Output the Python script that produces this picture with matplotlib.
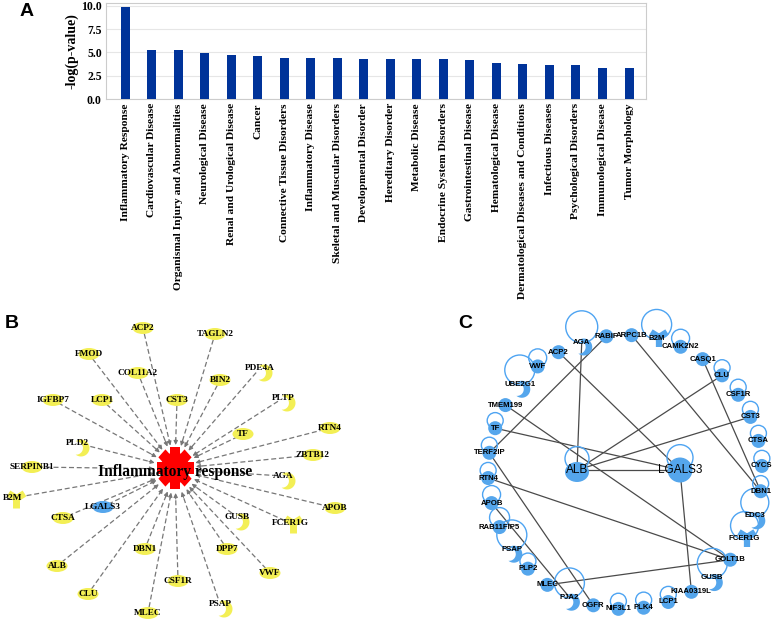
import numpy as np
import matplotlib
matplotlib.use("Agg")
import matplotlib.pyplot as plt
from matplotlib.patches import Ellipse, Circle, Polygon

# ---------------- data ----------------
categories = ["Inflammatory Response", "Cardiovascular Disease",
              "Organismal Injury and Abnormalities", "Neurological Disease",
              "Renal and Urological Disease", "Cancer", "Connective Tissue Disorders",
              "Inflammatory Disease", "Skeletal and Muscular Disorders",
              "Developmental Disorder", "Hereditary Disorder", "Metabolic Disease",
              "Endocrine System Disorders", "Gastrointestinal Disease",
              "Hematological Disease", "Dermatological Diseases and Conditions",
              "Infectious Diseases", "Psychological Disorders",
              "Immunological Disease", "Tumor Morphology"]
neg_log_p = [9.82, 5.25, 5.25, 4.96, 4.68, 4.57, 4.36, 4.36, 4.36, 4.27,
             4.29, 4.29, 4.27, 4.14, 3.89, 3.79, 3.68, 3.68, 3.29, 3.29]
yticks = [0.0, 2.5, 5.0, 7.5, 10.0]

# Panel B: genes pointing to the hub
b_hub = "Inflammatory response"
b_genes = ["ACP2", "TAGLN2", "FMOD", "COL11A2", "PDE4A", "BIN2", "IGFBP7", "LCP1",
           "CST3", "PLTP", "RTN4", "TF", "PLD2", "ZBTB12", "SERPINB1", "AGA", "B2M",
           "LGALS3", "APOB", "CTSA", "GUSB", "FCER1G", "DBN1", "DPP7", "ALB", "VWF",
           "CSF1R", "CLU", "PSAP", "MLEC"]
b_blue = ["LGALS3"]

# Panel C: circular network
c_ring = ["ACP2", "AGA", "RABIF", "ARPC1B", "B2M", "CAMK2N2", "CASQ1", "CLU", "CSF1R",
          "CST3", "CTSA", "CYCS", "DBN1", "EDC3", "FCER1G", "GOLT1B", "GUSB",
          "KIAA0319L", "LCP1", "PLK4", "NIF3L1", "OGFR", "PJA2", "MLEC", "PLP2", "PSAP",
          "RAB11FIP5", "APOB", "RTN4", "TERF2IP", "TF", "TMEM199", "UBE2G1", "VWF"]
c_hubs = ["ALB", "LGALS3"]
c_edges = [("ALB", "LGALS3"), ("AGA", "ALB"), ("RABIF", "TERF2IP"), ("ACP2", "LGALS3"),
           ("ARPC1B", "DBN1"), ("CASQ1", "DBN1"), ("CLU", "ALB"), ("CST3", "ALB"),
           ("TMEM199", "GOLT1B"), ("TF", "LGALS3"), ("RTN4", "GOLT1B"),
           ("TERF2IP", "OGFR"), ("APOB", "PJA2"), ("MLEC", "GOLT1B"),
           ("LGALS3", "KIAA0319L")]
c_self_loops = ["AGA", "B2M", "CAMK2N2", "CLU", "CSF1R", "CST3", "CTSA", "CYCS", "DBN1",
                "EDC3", "FCER1G", "GUSB", "LCP1", "PLK4", "NIF3L1", "PJA2", "PLP2",
                "PSAP", "RAB11FIP5", "APOB", "RTN4", "TERF2IP", "TF", "UBE2G1", "VWF",
                "ALB", "LGALS3"]

# ---------------- styles / layout ----------------
BAR_COLOR = "#003399"
YELLOW = "#f3ef55"
BLUE = "#55a6ec"
LOOP_BLUE = "#4ea4f2"
crescent_b = {"PDE4A", "PLTP", "PLD2", "AGA", "GUSB", "PSAP"}
yshape_b = {"B2M", "FCER1G"}
crescent_c = {"AGA", "UBE2G1", "PSAP", "PJA2", "GUSB", "EDC3"}
yshape_c = {"B2M", "FCER1G"}
loop_size = {"AGA": 16, "B2M": 15, "UBE2G1": 15, "EDC3": 14, "FCER1G": 14, "GUSB": 15,
             "PJA2": 15, "PSAP": 15, "RAB11FIP5": 10, "VWF": 9, "CAMK2N2": 9,
             "APOB": 9, "ALB": 12, "LGALS3": 13}

# panel B layout: pixel offsets from hub (y downwards)
b_hub_xy = (175, 469)
b_layout = {"ACP2": (-32, -141), "TAGLN2": (40, -135), "FMOD": (-86, -115),
            "COL11A2": (-37, -96), "PDE4A": (85, -101), "BIN2": (45, -89),
            "IGFBP7": (-122, -69), "LCP1": (-73, -69), "CST3": (2, -69),
            "PLTP": (108, -71), "RTN4": (155, -41), "TF": (68, -35), "PLD2": (-98, -26),
            "ZBTB12": (138, -14), "SERPINB1": (-143, -2), "AGA": (108, 7),
            "B2M": (-162, 29), "LGALS3": (-72, 38), "APOB": (160, 39),
            "CTSA": (-112, 49), "GUSB": (62, 48), "FCER1G": (115, 54), "DBN1": (-30, 80),
            "DPP7": (52, 80), "ALB": (-118, 97), "VWF": (95, 104), "CSF1R": (3, 112),
            "CLU": (-87, 125), "PSAP": (45, 135), "MLEC": (-27, 144)}
# panel C layout: circle
c_center = (625, 472)
c_radius = 137
c_start_deg = -29
c_hub_offsets = {"ALB": (-48, -2), "LGALS3": (55, -2)}

fig = plt.figure(figsize=(7.75, 6.22), dpi=100)

# ---------------- network canvas (pixel coordinates) ----------------
axN = fig.add_axes([0, 0, 1, 1])
axN.set_xlim(0, 775)
axN.set_ylim(622, 0)
axN.axis("off")


def crescent(cx, cy, s, color, z=3):
    d, ri = -0.55, 0.78
    xi = (d * d + 1 - ri * ri) / (2 * d)
    yi = np.sqrt(1 - xi * xi)
    a_o = np.degrees(np.arctan2(yi, xi))
    a_i = np.degrees(np.arctan2(yi, xi - d))
    ao = np.radians(np.linspace(a_o, -a_o, 40))
    ai = np.radians(np.linspace(-a_i, a_i, 30))
    xs = np.concatenate([np.cos(ao), d + ri * np.cos(ai)])
    ys = np.concatenate([np.sin(ao), ri * np.sin(ai)])
    axN.add_patch(Polygon(np.column_stack([cx + s * xs, cy + s * ys]), closed=True,
                          fc=color, ec="none", zorder=z))


def gear(cx, cy, r_body, r_tooth, half_w, color, n=8, sy=1.12, z=4):
    axN.add_patch(Ellipse((cx, cy), 2 * r_body, 2 * r_body * sy, fc=color, ec="none",
                          zorder=z))
    for k in range(n):
        a = 2 * np.pi * k / n
        ux, uy = np.cos(a), np.sin(a)
        vx, vy = -uy, ux
        pts = []
        for t, w in [(0, -half_w), (r_tooth, -half_w), (r_tooth, half_w), (0, half_w)]:
            pts.append((cx + t * ux + w * vx, cy + sy * (t * uy + w * vy)))
        axN.add_patch(Polygon(pts, closed=True, fc=color, ec="none", zorder=z))


# ---- panel B ----
hx, hy = b_hub_xy
for g in b_genes:
    dx, dy = b_layout[g]
    px, py = hx + dx, hy + dy
    L = np.hypot(dx, dy)
    ux, uy = dx / L, dy / L
    ex, ey = hx + ux * 21, hy + uy * 24
    axN.plot([px - ux * 6, ex + ux * 5], [py - uy * 6, ey + uy * 5], ls=(0, (4, 2.2)),
             color="#777777", lw=0.9, zorder=1)
    axN.annotate("", xy=(ex, ey), xytext=(ex + ux * 6, ey + uy * 6),
                 arrowprops=dict(arrowstyle="-|>", color="#777777", lw=0.8,
                                 mutation_scale=6, shrinkA=0, shrinkB=0), zorder=1)
    col = BLUE if g in b_blue else YELLOW
    if g in crescent_b:
        crescent(px + 4, py + 5, 8.5, col)
    elif g in yshape_b:
        axN.plot(px + 3, py, marker="1", ms=15, mew=5, color=col, zorder=3)
    else:
        axN.add_patch(Ellipse((px, py), 21, 12, fc=col, ec="none", zorder=3))
    axN.text(px, py, g, ha="center", va="center", fontsize=6.7, fontweight="bold",
             family="Liberation Serif", zorder=5)

gear(hx, hy - 1, 14, 18.5, 5, "#ff0000")
axN.text(hx, hy + 3, b_hub, ha="center", va="center", fontsize=11.2, fontweight="bold",
         family="Liberation Serif", zorder=6)

# ---- panel C ----
pos = {}
for i, g in enumerate(c_ring):
    a = np.radians(c_start_deg + i * 360.0 / len(c_ring))
    pos[g] = (c_center[0] + c_radius * np.sin(a), c_center[1] - c_radius * np.cos(a))
for g in c_hubs:
    pos[g] = (c_center[0] + c_hub_offsets[g][0], c_center[1] + c_hub_offsets[g][1])

for a, b in c_edges:
    axN.plot([pos[a][0], pos[b][0]], [pos[a][1], pos[b][1]], color="#4a4a4a", lw=0.9,
             zorder=1)
for g in c_self_loops:
    r = loop_size.get(g, 8)
    x, y = pos[g]
    axN.add_patch(Circle((x, y - r * 0.95), r, fc="none", ec=LOOP_BLUE, lw=1.0, zorder=2))

for g in c_ring:
    x, y = pos[g]
    if g in crescent_c:
        crescent(x + 2, y + 5, 8.5, BLUE)
    elif g in yshape_c:
        axN.plot(x + 2, y - 2, marker="1", ms=15, mew=4.5, color=BLUE, zorder=3)
    else:
        axN.add_patch(Circle((x, y), 7, fc=BLUE, ec="none", zorder=3))
    axN.text(x, y, g, ha="center", va="center", fontsize=5.6, fontweight="bold",
             family="Liberation Sans", zorder=5)

# hubs
ax_, ay_ = pos["ALB"]
axN.add_patch(Ellipse((ax_, ay_ + 2), 24, 20, fc=BLUE, ec="none", zorder=3))
lx, ly = pos["LGALS3"]
axN.add_patch(Circle((lx, ly), 12.5, fc=BLUE, ec="none", zorder=3))
for g in c_hubs:
    axN.text(pos[g][0], pos[g][1], g, ha="center", va="center", fontsize=8.5,
             family="Liberation Sans", zorder=5)

# panel letters
for lab, (x, y) in {"A": (27, 12), "B": (12, 323), "C": (465, 323)}.items():
    axN.text(x, y, lab, ha="center", va="center", fontsize=14, fontweight="bold",
             family="Liberation Sans")

# ---------------- panel A bar chart ----------------
axA = fig.add_axes([106 / 775, 1 - 99 / 622, 540 / 775, 96 / 622])
xpos = np.arange(len(categories))
axA.bar(xpos, neg_log_p, width=0.34, color=BAR_COLOR, zorder=3)
axA.set_xlim(-0.72, len(categories) - 0.36)
axA.set_ylim(0, 10.3)
axA.set_yticks(yticks)
axA.set_yticklabels([f"{v:.1f}" for v in yticks], fontsize=8.5, fontweight="bold",
                    family="Liberation Serif")
axA.set_xticks(xpos)
axA.set_xticklabels(categories, rotation=90, fontsize=8.2, fontweight="bold",
                    family="Liberation Serif")
axA.tick_params(length=0, pad=3)
axA.grid(axis="y", color="#e6e6e6", lw=0.8, zorder=0)
for sp in axA.spines.values():
    sp.set_color("#cccccc")
axA.set_ylabel("-log(p-value)", fontsize=10, fontweight="bold", family="Liberation Serif",
               labelpad=2)

fig.savefig("out.png", dpi=100)
